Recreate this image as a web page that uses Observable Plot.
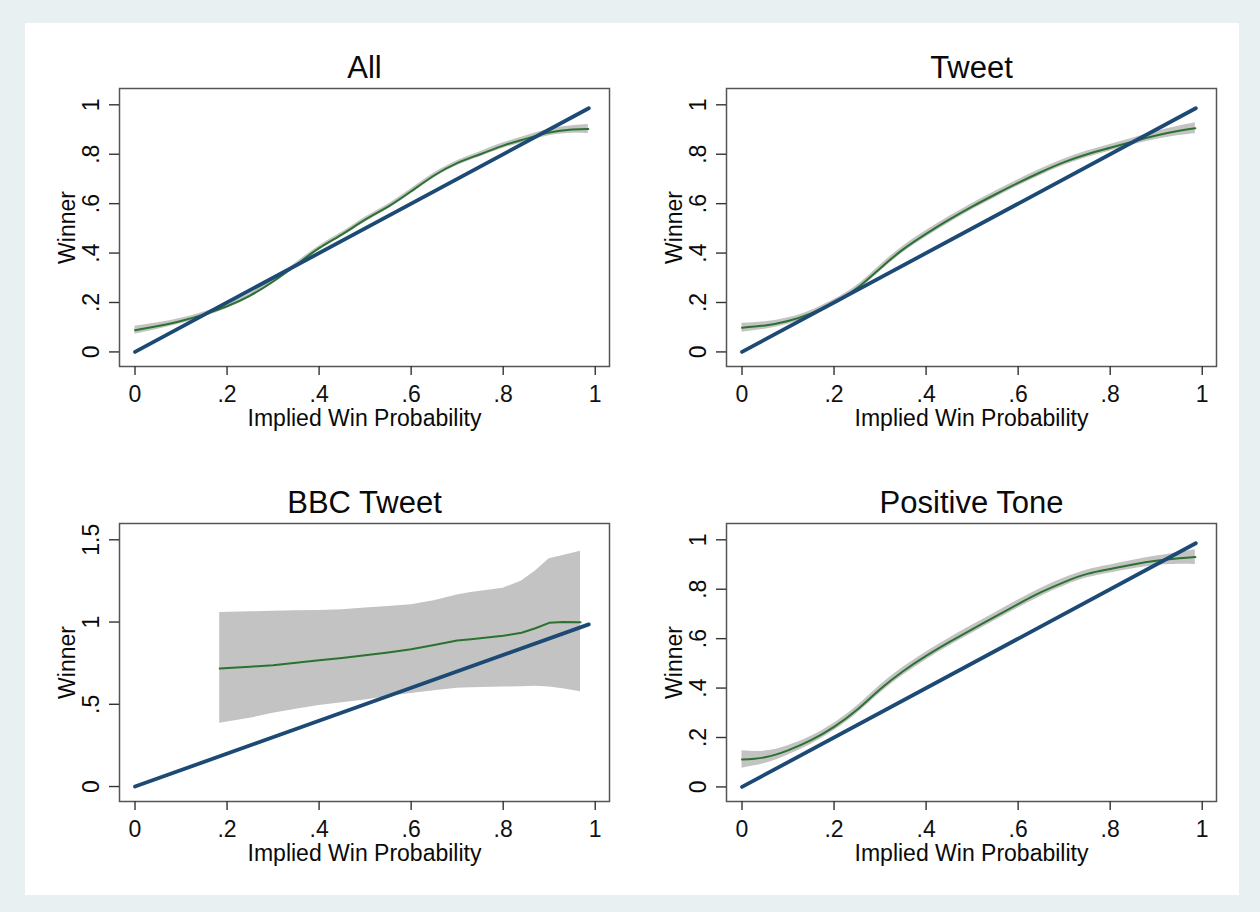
<!DOCTYPE html>
<html>
<head>
<meta charset="utf-8">
<script src="https://cdn.jsdelivr.net/npm/d3@7"></script>
<script src="https://cdn.jsdelivr.net/npm/@observablehq/plot@0.6"></script>
<style>
html, body { margin: 0; padding: 0; background: #e9f0f2; }
#page { position: relative; width: 1260px; height: 912px; background: #e9f0f2; overflow: hidden;
  font-family: "Liberation Sans", Arial, Helvetica, sans-serif; }
#inner { position: absolute; left: 25px; top: 23px; width: 1214px; height: 872px; background: #ffffff; }
.panel { position: absolute; }
</style>
</head>
<body>
<div id="page"><div id="inner"></div></div>
<script>
// ---------- data ----------
const xTicks = [0, 0.2, 0.4, 0.6, 0.8, 1];
const xTickLabels = ["0", ".2", ".4", ".6", ".8", "1"];
const yTicksUnit = [0, 0.2, 0.4, 0.6, 0.8, 1];
const yTickLabelsUnit = ["0", ".2", ".4", ".6", ".8", "1"];
const yTicksBBC = [0, 0.5, 1, 1.5];
const yTickLabelsBBC = ["0", ".5", "1", "1.5"];

const panelTitles = ["All", "Tweet", "BBC Tweet", "Positive Tone"];
const xTitle = "Implied Win Probability";
const yTitle = "Winner";

// 45-degree reference line (implied probability = outcome)
const diagX = [0, 0.986];
const diagY = [0, 0.986];

// smoothed fit + confidence band
const gridX = [0, 0.05, 0.10, 0.15, 0.20, 0.25, 0.30, 0.35, 0.40, 0.45, 0.50, 0.55, 0.60, 0.65, 0.70, 0.75, 0.80, 0.85, 0.90, 0.95, 0.985];

const allFit  = [0.088, 0.105, 0.125, 0.152, 0.185, 0.228, 0.285, 0.352, 0.420, 0.476, 0.535, 0.588, 0.650, 0.714, 0.764, 0.800, 0.835, 0.863, 0.888, 0.900, 0.902];
const allHalf = [0.016, 0.013, 0.011, 0.010, 0.009, 0.009, 0.009, 0.009, 0.009, 0.009, 0.010, 0.010, 0.010, 0.010, 0.010, 0.010, 0.011, 0.012, 0.013, 0.015, 0.018];

const tweetFit  = [0.098, 0.107, 0.125, 0.156, 0.200, 0.258, 0.338, 0.415, 0.478, 0.535, 0.588, 0.637, 0.684, 0.728, 0.768, 0.800, 0.826, 0.852, 0.876, 0.895, 0.905];
const tweetHalf = [0.018, 0.015, 0.013, 0.012, 0.012, 0.012, 0.013, 0.013, 0.013, 0.013, 0.013, 0.013, 0.013, 0.013, 0.013, 0.013, 0.013, 0.014, 0.016, 0.019, 0.022];

const posFit  = [0.111, 0.120, 0.148, 0.189, 0.243, 0.312, 0.395, 0.468, 0.530, 0.586, 0.638, 0.689, 0.740, 0.788, 0.829, 0.862, 0.882, 0.900, 0.915, 0.925, 0.930];
const posHalf = [0.035, 0.025, 0.019, 0.016, 0.015, 0.015, 0.016, 0.016, 0.016, 0.016, 0.016, 0.016, 0.016, 0.016, 0.016, 0.016, 0.016, 0.017, 0.019, 0.024, 0.030];

const bbcX   = [0.184, 0.25, 0.30, 0.35, 0.40, 0.45, 0.50, 0.55, 0.60, 0.65, 0.70, 0.73, 0.80, 0.84, 0.87, 0.90, 0.93, 0.968];
const bbcFit = [0.718, 0.728, 0.738, 0.752, 0.768, 0.782, 0.798, 0.815, 0.835, 0.860, 0.888, 0.896, 0.916, 0.935, 0.962, 0.995, 1.000, 0.998];
const bbcHi  = [1.058, 1.062, 1.065, 1.068, 1.070, 1.075, 1.085, 1.095, 1.105, 1.130, 1.165, 1.180, 1.205, 1.250, 1.310, 1.385, 1.405, 1.430];
const bbcLo  = [0.384, 0.415, 0.445, 0.470, 0.492, 0.510, 0.526, 0.548, 0.566, 0.583, 0.597, 0.600, 0.605, 0.606, 0.610, 0.605, 0.595, 0.576];

// ---------- drawing ----------
const FONT = "'Liberation Sans', Arial, Helvetica, sans-serif";
const W = 610, H = 408, ML = 100, MR = 20, MT = 50, MB = 80;

function makePanel({title, xs, fit, lo, hi, yDomain, yTicks, yLabels, curve, left, top}) {
  const band = xs.map((x, i) => ({x, fit: fit[i], lo: lo[i], hi: hi[i]}));
  const diag = diagX.map((x, i) => ({x, y: diagY[i]}));
  const svg = Plot.plot({
    width: W, height: H,
    marginLeft: ML, marginRight: MR, marginTop: MT, marginBottom: MB,
    style: {background: "transparent", fontFamily: FONT, color: "#111", overflow: "visible"},
    x: {domain: [-0.0337, 1.031], axis: null},
    y: {domain: yDomain, axis: null},
    marks: [
      Plot.areaY(band, {x: "x", y1: "lo", y2: "hi", fill: "#c3c3c3", curve}),
      Plot.line(band, {x: "x", y: "fit", stroke: "#2b7230", strokeWidth: 2, curve}),
      Plot.line(diag, {x: "x", y: "y", stroke: "#1c4a74", strokeWidth: 3.8}),
      Plot.frame({stroke: "#555", strokeWidth: 1.5}),
      Plot.axisX({ticks: xTicks, tickFormat: d => xTickLabels[xTicks.indexOf(d)], tickSize: 9, tickPadding: 10,
        fontSize: 23, label: null, stroke: "#333", strokeWidth: 1.4}),
      Plot.axisY({ticks: yTicks, tickFormat: () => "", tickSize: 10, label: null, stroke: "#333", strokeWidth: 1.4}),
      Plot.text(yTicks, {y: d => d, text: d => yLabels[yTicks.indexOf(d)], frameAnchor: "left", dx: -28,
        rotate: -90, fontSize: 23, textAnchor: "middle", lineAnchor: "middle", fill: "#0a0a0a"}),
      Plot.text([yTitle], {text: d => d, frameAnchor: "left", dx: -52, rotate: -90, fontSize: 23,
        textAnchor: "middle", lineAnchor: "middle", fill: "#0a0a0a"}),
      Plot.text([xTitle], {text: d => d, frameAnchor: "bottom", dy: 52, fontSize: 23,
        textAnchor: "middle", lineAnchor: "middle", fill: "#0a0a0a"}),
      Plot.text([title], {text: d => d, frameAnchor: "top", dy: -20, fontSize: 31,
        textAnchor: "middle", lineAnchor: "middle", fill: "#0a0a0a"})
    ]
  });
  svg.classList.add("panel");
  svg.style.left = left + "px";
  svg.style.top = top + "px";
  svg.style.position = "absolute";
  document.getElementById("page").appendChild(svg);
}

const unitDomain = [-0.059, 1.066];
const half = (f, h, s) => f.map((v, i) => v + s * h[i]);

makePanel({title: panelTitles[0], xs: gridX, fit: allFit, lo: half(allFit, allHalf, -1), hi: half(allFit, allHalf, 1),
  yDomain: unitDomain, yTicks: yTicksUnit, yLabels: yTickLabelsUnit, curve: "natural", left: 19, top: 38});
makePanel({title: panelTitles[1], xs: gridX, fit: tweetFit, lo: half(tweetFit, tweetHalf, -1), hi: half(tweetFit, tweetHalf, 1),
  yDomain: unitDomain, yTicks: yTicksUnit, yLabels: yTickLabelsUnit, curve: "natural", left: 626, top: 38});
makePanel({title: panelTitles[2], xs: bbcX, fit: bbcFit, lo: bbcLo, hi: bbcHi,
  yDomain: [-0.091, 1.599], yTicks: yTicksBBC, yLabels: yTickLabelsBBC, curve: "linear", left: 19, top: 473});
makePanel({title: panelTitles[3], xs: gridX, fit: posFit, lo: half(posFit, posHalf, -1), hi: half(posFit, posHalf, 1),
  yDomain: unitDomain, yTicks: yTicksUnit, yLabels: yTickLabelsUnit, curve: "natural", left: 626, top: 473});
</script>
</body>
</html>
